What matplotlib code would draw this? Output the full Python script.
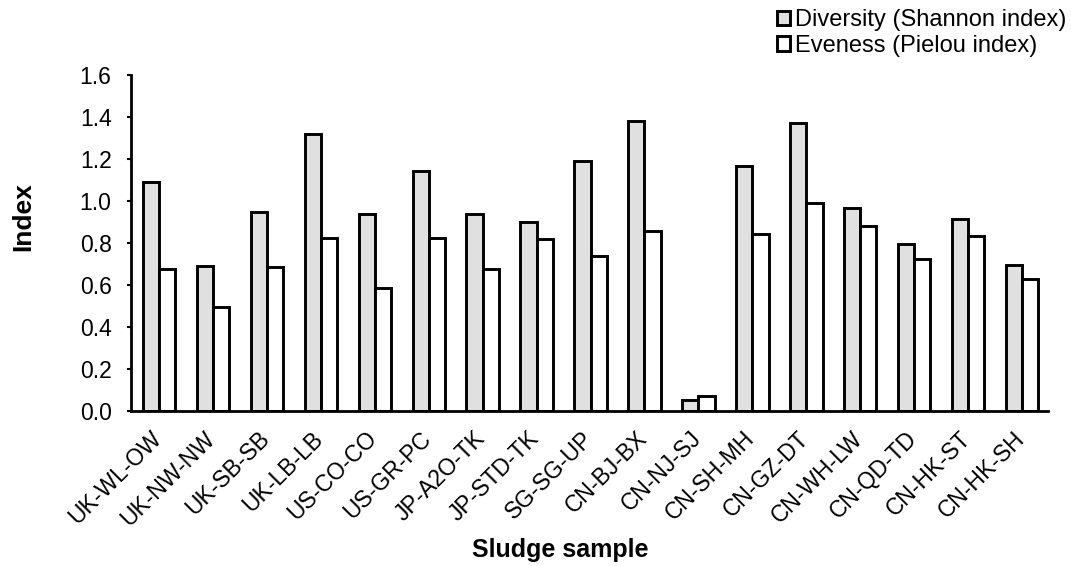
import matplotlib
matplotlib.use("Agg")
import matplotlib.pyplot as plt
import numpy as np

samples = ["UK-WL-OW", "UK-NW-NW", "UK-SB-SB", "UK-LB-LB", "US-CO-CO", "US-GR-PC",
           "JP-A2O-TK", "JP-STD-TK", "SG-SG-UP", "CN-BJ-BX", "CN-NJ-SJ", "CN-SH-MH",
           "CN-GZ-DT", "CN-WH-LW", "CN-QD-TD", "CN-HK-ST", "CN-HK-SH"]
diversity = [1.09, 0.69, 0.95, 1.32, 0.94, 1.145, 0.94, 0.90, 1.19, 1.38, 0.053, 1.167,
             1.373, 0.969, 0.797, 0.915, 0.695]
evenness = [0.677, 0.498, 0.686, 0.824, 0.585, 0.824, 0.678, 0.82, 0.74, 0.858, 0.075, 0.843,
            0.99, 0.882, 0.724, 0.835, 0.632]
yticks = [0.0, 0.2, 0.4, 0.6, 0.8, 1.0, 1.2, 1.4, 1.6]

plt.rcParams['font.family'] = ['Liberation Sans', 'DejaVu Sans']

fig = plt.figure(figsize=(10.71, 5.66), dpi=100)
ax = fig.add_axes([0.1223, 0.273, 0.8562, 0.5945])

x = np.arange(len(samples))
w = 0.3
off = 0.02
ax.bar(x - w / 2 + off, diversity, width=w, color="#e0e0e0", edgecolor="black",
       linewidth=2.1, label="Diversity (Shannon index)")
ax.bar(x + w / 2 + off, evenness, width=w, color="white", edgecolor="black",
       linewidth=2.1, label="Eveness (Pielou index)")

ax.set_xlim(-0.5, len(samples) - 0.5)
ax.set_ylim(0, 1.6)
ax.set_yticks(yticks)
ax.set_yticklabels([f"{v:.1f}" for v in yticks], fontsize=16.5)
ax.set_xticks(x)
ax.set_xticklabels(samples, rotation=45, ha="right", va="center", rotation_mode="anchor",
                   fontsize=16.5)
ax.tick_params(axis="x", length=0, pad=17)
ax.tick_params(axis="y", length=3, width=1.5, direction="out", pad=11)
for s in ["top", "right"]:
    ax.spines[s].set_visible(False)
for s in ["left", "bottom"]:
    ax.spines[s].set_linewidth(2.0)

fig.text(23 / 1071, 1 - 217 / 566, "Index", rotation=90, ha="center", va="center",
         fontsize=19, fontweight="bold")
fig.text(560 / 1071, 1 - 550 / 566, "Sludge sample", ha="center", va="center",
         fontsize=18, fontweight="bold")

leg = fig.legend(loc="upper left", bbox_to_anchor=(0.717, 1.0), frameon=False, fontsize=17,
                 handlelength=0.55, handleheight=0.55, handletextpad=0.2, labelspacing=0.14,
                 borderaxespad=0.0)

fig.savefig("out.png", dpi=100)
